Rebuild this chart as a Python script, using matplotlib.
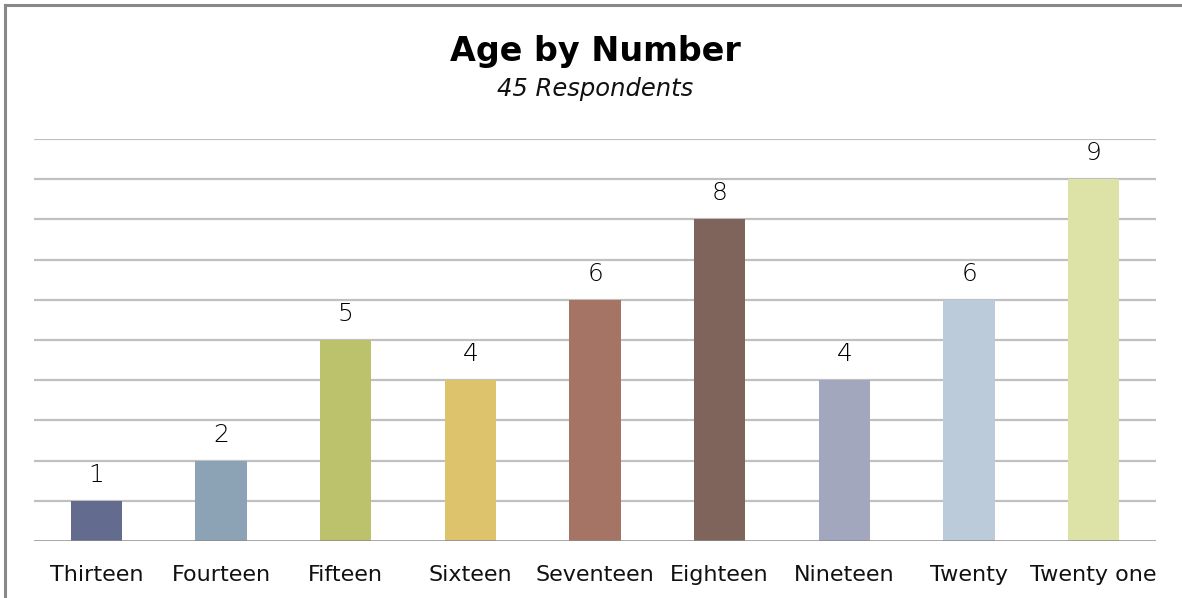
import matplotlib
matplotlib.use("Agg")
import matplotlib.pyplot as plt
from matplotlib.lines import Line2D

categories = ["Thirteen", "Fourteen", "Fifteen", "Sixteen", "Seventeen",
              "Eighteen", "Nineteen", "Twenty", "Twenty one"]
counts = [1, 2, 5, 4, 6, 8, 4, 6, 9]
bar_colors = ["#636B8E", "#8CA3B6", "#BBC26B", "#DEC36D", "#A57464",
              "#7F645B", "#A2A7BD", "#BBCBDA", "#DDE3A6"]

plt.rcParams["font.family"] = ["DejaVu Sans"]

W, H = 1182, 598
fig = plt.figure(figsize=(W / 100, H / 100), dpi=100)
fig.patch.set_facecolor("white")

# outer chart frame (top and left edges visible)
fig.add_artist(Line2D([4.5 / W, 4.5 / W], [0, 1 - 4.5 / H], transform=fig.transFigure,
                      color="#888888", lw=2.2))
fig.add_artist(Line2D([4.5 / W, 1.0], [1 - 4.5 / H, 1 - 4.5 / H], transform=fig.transFigure,
                      color="#888888", lw=2.2))

ax = fig.add_axes([34 / W, 57 / H, (1156 - 34) / W, (541 - 139) / H])
x = range(len(categories))
ax.bar(x, counts, width=0.41, color=bar_colors, zorder=3)
ax.set_xlim(-0.5, len(categories) - 0.5)
ax.set_ylim(0, 10)

for yv in range(1, 11):
    ax.axhline(yv, color="#C0C0C0", lw=1.6, zorder=1)
ax.axhline(0, color="#8C8C8C", lw=1.8, zorder=4)

for xi, v in zip(x, counts):
    ax.annotate(str(v), (xi, v), xytext=(0, 13.7), textcoords="offset points",
                ha="center", va="baseline", fontsize=18, fontweight="light",
                color="#000000")

ax.set_xticks(list(x))
ax.set_xticklabels(categories, fontsize=16, color="#111111")
ax.tick_params(axis="x", length=0, pad=17.5)
ax.set_yticks([])
for s in ax.spines.values():
    s.set_visible(False)

fig.text(595 / W, 1 - 52 / H, "Age by Number", ha="center", va="center",
         fontsize=24, fontweight="bold", color="#000000")
fig.text(595 / W, 1 - 89 / H, "45 Respondents", ha="center", va="center",
         fontsize=17.5, fontstyle="italic", color="#111111")

fig.savefig("out.png", dpi=100, facecolor="white")
